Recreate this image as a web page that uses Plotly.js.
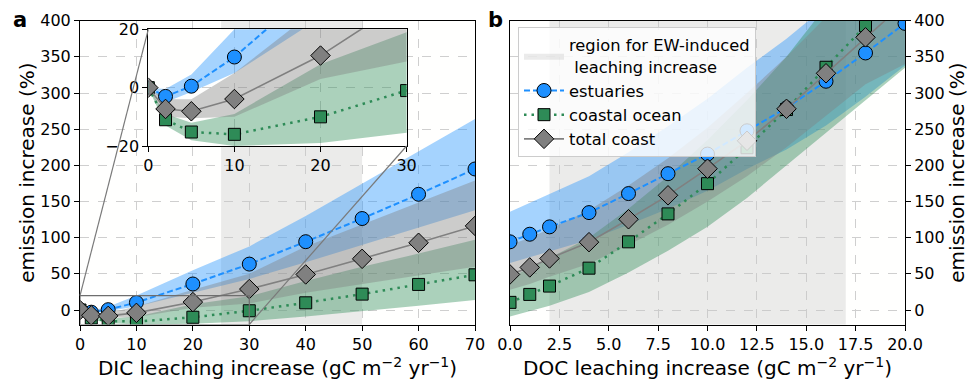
<!DOCTYPE html>
<html>
<head>
<meta charset="utf-8">
<script src="https://cdn.plot.ly/plotly-3.0.1.min.js"></script>
<style>html,body{margin:0;padding:0;background:#fff;}#chart{width:971px;height:380px;}</style>
</head>
<body>
<div id="chart"></div>
<script>
// ---------- data: panel a (DIC) ----------
const dicX       = [0, 2, 5, 10, 20, 30, 40, 50, 60, 70];
const dicEst     = [0, -3, 0.5, 10.5, 36, 63.5, 94.5, 126.5, 160, 195];
const dicEstLo   = [0, -5, -1.5, 5, 24, 43, 66, 90, 114, 138];
const dicEstHi   = [0, -0.5, 4.5, 20, 55, 88, 130, 175, 220, 264];
const dicCoast   = [0, -11, -15.2, -16, -10, -1, 10, 22, 35.4, 48.7];
const dicCoastLo = [0, -13, -18, -20, -19, -15.5, -9, -2, 6, 14];
const dicCoastHi = [0, -9, -12, -9, 8, 19, 40, 60, 78, 97];
const dicTotal   = [0, -7.3, -8.1, -3.9, 11, 29, 49.2, 70.8, 93, 116.3];
const dicTotalLo = [0, -10, -10.5, -10, 3, 9, 24, 36, 48, 60];
const dicTotalHi = [0, -4, -4, 5, 28, 50, 88, 118, 148, 179];
const dicRegion  = [25, 50];

// ---------- data: panel b (DOC) ----------
const docX       = [0, 1, 2, 4, 6, 8, 10, 12, 14, 16, 18, 20];
const docEst     = [94.3, 104.8, 115, 134.7, 161, 188.5, 215.6, 247.8, 279.5, 316.3, 355.4, 396.3];
const docEstLo   = [65, 73, 80, 97, 118, 140, 165, 195, 222, 255, 295, 338];
const docEstHi   = [136, 148, 160, 185, 218, 254, 292, 335, 375, 420, 470, 520];
const docCoast   = [10.6, 21.6, 33.1, 57.9, 94.3, 132.9, 174.7, 224.4, 277.2, 335.6, 393, 455];
const docCoastLo = [-9, -1, 6, 25, 52, 82, 115, 155, 200, 245, 290, 335];
const docCoastHi = [45, 58, 72, 100, 140, 185, 235, 290, 350, 420, 490, 560];
const docTotal   = [49.2, 58.9, 71.3, 93.8, 125.5, 158.6, 195.4, 234, 278.2, 327.3, 377, 425];
const docTotalLo = [28, 36, 46, 64, 90, 118, 150, 185, 225, 268, 312, 340];
const docTotalHi = [90, 100, 112, 138, 172, 210, 252, 300, 350, 405, 460, 515];
const docRegion  = [2, 17];

const yRange = [-20, 400];
const inYRange = [-20, 20];
const inXRange = [0, 30];

// ---------- styles ----------
const C_EST = '#1E90FF', C_CO = '#2E8B57', C_TOT = '#808080';
const F_EST = 'rgba(30,144,255,0.4)', F_CO = 'rgba(46,139,87,0.4)', F_TOT = 'rgba(128,128,128,0.4)';
const F_REG = 'rgba(200,200,200,0.36)';
const names = {est: 'estuaries', co: 'coastal ocean', tot: 'total coast'};

const traces = [];
function region(xr, xa, ya, show) {
  traces.push({x: [xr[0], xr[1], xr[1], xr[0], xr[0]], y: [-1000, -1000, 1000, 1000, -1000],
    xaxis: xa, yaxis: ya, mode: 'lines', fill: 'toself', fillcolor: F_REG, line: {width: 0},
    name: 'region for EW-induced<br> leaching increase', showlegend: show, hoverinfo: 'skip'});
}
function band(x, lo, hi, col, xa, ya) {
  traces.push({x: x, y: lo, xaxis: xa, yaxis: ya, mode: 'lines', line: {width: 0}, showlegend: false, hoverinfo: 'skip'});
  traces.push({x: x, y: hi, xaxis: xa, yaxis: ya, mode: 'lines', line: {width: 0}, fill: 'tonexty', fillcolor: col, showlegend: false, hoverinfo: 'skip'});
}
function series(x, y, kind, xa, ya, show) {
  const st = {
    est: {line: {color: C_EST, width: 2, dash: '6px,3px'}, marker: {symbol: 'circle', size: 14, color: C_EST, line: {color: 'black', width: 1}}},
    co:  {line: {color: C_CO, width: 2.5, dash: '2.5px,5px'}, marker: {symbol: 'square', size: 12, color: C_CO, line: {color: 'black', width: 1}}},
    tot: {line: {color: C_TOT, width: 1.6}, marker: {symbol: 'diamond', size: 15, color: C_TOT, line: {color: 'black', width: 1}}}
  }[kind];
  traces.push({x: x, y: y, xaxis: xa, yaxis: ya, mode: 'lines+markers', name: names[kind],
    line: st.line, marker: st.marker, showlegend: show, legendgroup: kind});
}

// panel b region first so that it leads the legend
region(docRegion, 'x2', 'y2', true);
region(dicRegion, 'x', 'y', false);

// panel a
band(dicX, dicEstLo, dicEstHi, F_EST, 'x', 'y');
band(dicX, dicCoastLo, dicCoastHi, F_CO, 'x', 'y');
band(dicX, dicTotalLo, dicTotalHi, F_TOT, 'x', 'y');
// panel b
band(docX, docEstLo, docEstHi, F_EST, 'x2', 'y2');
band(docX, docCoastLo, docCoastHi, F_CO, 'x2', 'y2');
band(docX, docTotalLo, docTotalHi, F_TOT, 'x2', 'y2');
// inset
band(dicX, dicEstLo, dicEstHi, F_EST, 'x3', 'y3');
band(dicX, dicCoastLo, dicCoastHi, F_CO, 'x3', 'y3');
band(dicX, dicTotalLo, dicTotalHi, F_TOT, 'x3', 'y3');

series(docX, docEst, 'est', 'x2', 'y2', true);
series(docX, docCoast, 'co', 'x2', 'y2', true);
series(docX, docTotal, 'tot', 'x2', 'y2', true);
series(dicX, dicEst, 'est', 'x', 'y', false);
series(dicX, dicCoast, 'co', 'x', 'y', false);
series(dicX, dicTotal, 'tot', 'x', 'y', false);
series(dicX, dicEst, 'est', 'x3', 'y3', false);
series(dicX, dicCoast, 'co', 'x3', 'y3', false);
series(dicX, dicTotal, 'tot', 'x3', 'y3', false);

// ---------- layout ----------
const W = 971, H = 380;
const fx = p => p / W, fy = p => 1 - p / H;
const domA = [fx(80), fx(475)], domB = [fx(510), fx(905)], domY = [fy(324.5), fy(20.7)];
const domInX = [fx(148.3), fx(406.6)], domInY = [fy(146), fy(29.3)];
const FONT = 'DejaVu Sans, sans-serif';

const axBase = {showline: true, linecolor: 'black', linewidth: 1, mirror: true, ticks: 'outside', ticklen: 5,
  tickwidth: 1, tickcolor: 'black', showgrid: true, gridcolor: '#cfcfcf', griddash: 'dash', gridwidth: 1,
  zeroline: false, tickfont: {size: 16, color: 'black'}, automargin: false, fixedrange: true};
const xTitle = t => ({text: t + ' (gC m<sup>\u22122</sup> yr<sup>\u22121</sup>)', font: {size: 20, color: 'black'}, standoff: 6});
const yTitleL = {text: 'emission increase (%)', font: {size: 20, color: 'black'}, standoff: 0};
const yTitleR = {text: 'emission increase (%)', font: {size: 20, color: 'black'}, standoff: 5};

// zoom-box connectors: map main-axis data points (panel a) into paper fractions
const xA = [0, 70];
const toPX = v => domA[0] + (v - xA[0]) / (xA[1] - xA[0]) * (domA[1] - domA[0]);
const toPY = v => domY[0] + (v - yRange[0]) / (yRange[1] - yRange[0]) * (domY[1] - domY[0]);
const shapes = [
  {type: 'rect', xref: 'x', yref: 'y', x0: inXRange[0], x1: inXRange[1], y0: inYRange[0], y1: inYRange[1],
   line: {color: '#6e6e6e', width: 1.2}, layer: 'above'},
  {type: 'line', xref: 'paper', yref: 'paper', x0: domInX[0], y0: domInY[1], x1: toPX(inXRange[0]), y1: toPY(inYRange[1]),
   line: {color: '#7a7a7a', width: 1.2}, layer: 'above'},
  {type: 'line', xref: 'paper', yref: 'paper', x0: domInX[1], y0: domInY[0], x1: toPX(inXRange[1]), y1: toPY(inYRange[0]),
   line: {color: '#7a7a7a', width: 1.2}, layer: 'above'}
];

const layout = {
  width: W, height: H, margin: {l: 0, r: 0, t: 0, b: 0},
  paper_bgcolor: '#ffffff', plot_bgcolor: '#fffffe',
  font: {family: FONT, size: 16, color: 'black'},
  showlegend: true,
  legend: {x: fx(518), y: fy(27), xanchor: 'left', yanchor: 'top', bgcolor: 'rgba(255,255,255,0.8)',
    bordercolor: '#cccccc', borderwidth: 1, font: {size: 16.3, color: 'black'}, tracegroupgap: 0, itemwidth: 40},
  xaxis: Object.assign({}, axBase, {domain: domA, range: xA, dtick: 10, tick0: 0, anchor: 'y', title: xTitle('DIC leaching increase')}),
  yaxis: Object.assign({}, axBase, {domain: domY, range: yRange, dtick: 50, tick0: 0, anchor: 'x', title: yTitleL}),
  xaxis2: Object.assign({}, axBase, {domain: domB, range: [0, 20], dtick: 2.5, tick0: 0, tickformat: '.1f', anchor: 'y2', title: xTitle('DOC leaching increase')}),
  yaxis2: Object.assign({}, axBase, {domain: domY, range: yRange, dtick: 50, tick0: 0, anchor: 'x2', side: 'right', title: yTitleR}),
  xaxis3: Object.assign({}, axBase, {domain: domInX, range: inXRange, dtick: 10, tick0: 0, anchor: 'y3'}),
  yaxis3: Object.assign({}, axBase, {domain: domInY, range: inYRange, dtick: 20, tick0: -20, anchor: 'x3'}),
  shapes: shapes,
  annotations: [
    {text: '<b>a</b>', xref: 'paper', yref: 'paper', x: fx(11), y: fy(20), xanchor: 'left', yanchor: 'middle', showarrow: false, font: {size: 21, color: 'black'}},
    {text: '<b>b</b>', xref: 'paper', yref: 'paper', x: fx(486), y: fy(20), xanchor: 'left', yanchor: 'middle', showarrow: false, font: {size: 21, color: 'black'}}
  ]
};

Plotly.newPlot('chart', traces, layout, {displayModeBar: false, staticPlot: true});
</script>
</body>
</html>
